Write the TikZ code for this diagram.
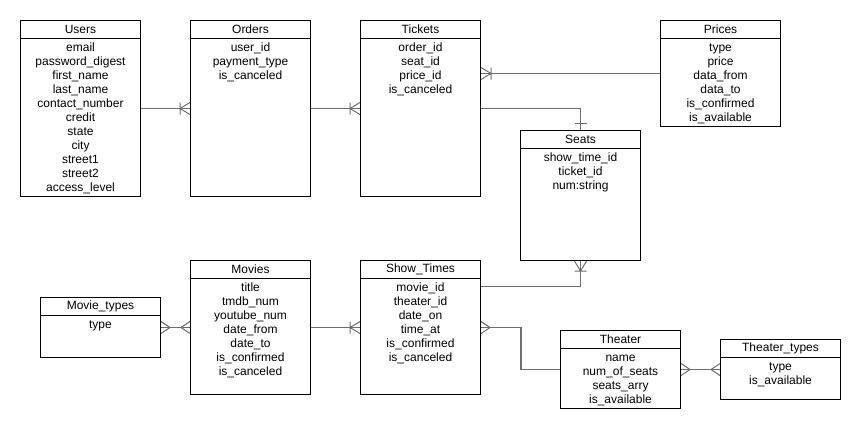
\documentclass[tikz,border=0pt]{standalone}
\usepackage{fontspec}
\setmainfont{Liberation Sans}
\definecolor{linkgray}{RGB}{110,110,110}
\tikzset{
  entbox/.style={draw,anchor=north west,minimum width=90pt,inner sep=0pt,line width=.75pt},
  enthead/.style={draw,anchor=north,minimum width=90pt,minimum height=13.5pt,inner sep=0pt,line width=.75pt},
  entattrs/.style={anchor=north,align=center,inner sep=0pt},
  rel/.style={draw=linkgray,line width=1.1pt},
  foot/.style={draw=linkgray,line width=.75pt},
  crow/.pic={\draw[foot] (0,-6) -- (-9,0) -- (0,6);},
  onemany/.pic={\draw[foot] (0,-6) -- (-10,0) -- (0,6) (-10,-6) -- (-10,6);},
  one/.pic={\draw[foot] (-7,-6) -- (-7,6);},
}
% name, x, y, height (px), title, fields
\newcommand\entity[6]{%
  \node[entbox,minimum height=#4*.75pt] (#1) at (#2,#3) {};
  \node[enthead] (#1-head) at (#1.north) {#5};
  \node[entattrs] (#1-attrs) at (#1-head.south) {\rule{0pt}{9.3pt}#6};
}
\begin{document}
\begin{tikzpicture}[x=.75pt,y=-.75pt,font=\fontsize{9pt}{10.5pt}\selectfont]
  \useasboundingbox (0,0) rectangle (862,430);
  \entity{users}{20}{20}{176}{Users}{email\\password\_digest\\first\_name\\last\_name\\contact\_number\\credit\\state\\city\\street1\\street2\\access\_level}
  \entity{orders}{190}{20}{176}{Orders}{user\_id\\payment\_type\\is\_canceled}
  \entity{tickets}{360}{20}{176}{Tickets}{order\_id\\seat\_id\\price\_id\\is\_canceled}
  \entity{prices}{660}{20}{106}{Prices}{type\\price\\data\_from\\data\_to\\is\_confirmed\\is\_available}
  \entity{seats}{520}{130}{130}{Seats}{show\_time\_id\\ticket\_id\\num:string}
  \entity{movietypes}{40}{297}{60}{Movie\_types}{type}
  \entity{movies}{190}{260}{134}{Movies}{title\\tmdb\_num\\youtube\_num\\date\_from\\date\_to\\is\_confirmed\\is\_canceled}
  \entity{showtimes}{360}{260}{134}{Show\_Times}{movie\_id\\theater\_id\\date\_on\\time\_at\\is\_confirmed\\is\_canceled}
  \entity{theater}{560}{330}{78}{Theater}{name\\num\_of\_seats\\seats\_arry\\is\_available}
  \entity{theatertypes}{720}{339}{60}{Theater\_types}{type\\is\_available}
  % relations
  \draw[rel] (users.east) -- (orders.west);
  \draw[rel] (orders.east) -- (tickets.west);
  \draw[rel] (prices.west) -- (tickets.east |- prices.west);
  \draw[rel] (tickets.east) -| (seats.north);
  \draw[rel] ([yshift=-20pt]showtimes.north east) -| (seats.south);
  \draw[rel] (movietypes.east) -- (movies.west);
  \draw[rel] (movies.east) -- (showtimes.west);
  \draw[rel] (showtimes.east) -- ++(40,0) |- (theater.west);
  \draw[rel] (theater.east) -- (theatertypes.west);
  % ends
  \pic at (orders.west) {onemany};
  \pic at (tickets.west) {onemany};
  \pic[rotate=180] at (tickets.east |- prices.west) {onemany};
  \pic[rotate=-90] at (seats.north) {one};
  \pic[rotate=90] at (seats.south) {onemany};
  \pic[rotate=180] at (movietypes.east) {crow};
  \pic at (movies.west) {crow};
  \pic at (showtimes.west) {onemany};
  \pic[rotate=180] at (showtimes.east) {crow};
  \pic[rotate=180] at (theater.east) {crow};
  \pic at (theatertypes.west) {crow};
\end{tikzpicture}
\end{document}
